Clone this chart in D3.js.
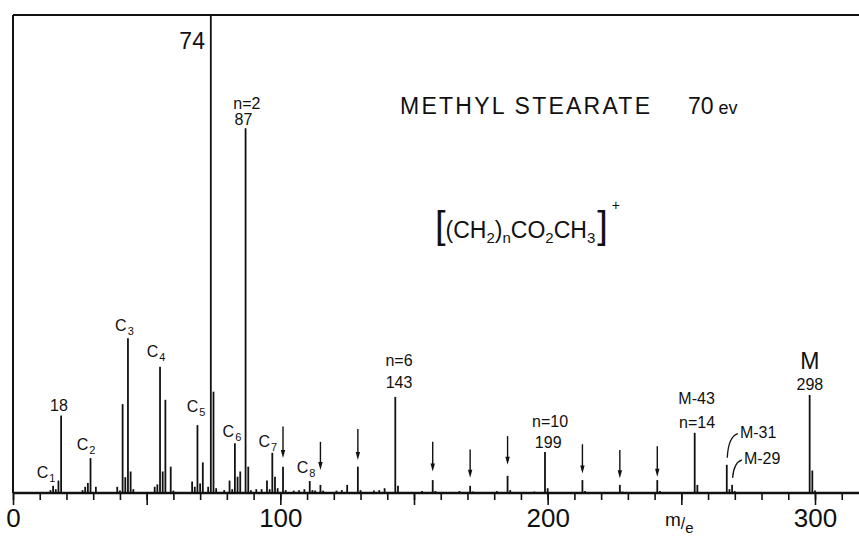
<!DOCTYPE html>
<html>
<head>
<meta charset="utf-8">
<script src="https://cdn.jsdelivr.net/npm/d3@7"></script>
<style>
body { margin: 0; background: #fff; }
svg { display: block; }
text { font-family: "Liberation Sans", Arial, sans-serif; fill: #111; }
</style>
</head>
<body>
<svg id="chart" width="859" height="537"></svg>
<script>
// m/e and relative intensity (%)
const masses = [14,15,16,17,18, 26,27,28,29,31, 39,40,41,42,43,44,45, 53,54,55,56,57,59,60,
  67,68,69,70,71,73,74,75,76,79, 81,82,83,84,85,87,88,89, 91,93,95,96,97,98,99,101,102,
  105,107,109,111,112,113,115,116, 121,123,125,129,130,135,137,139,143,144,
  153,157,158,167,171,172,181,185,186,195,199,200,
  213,214,227,228,241,242,255,256,267,268,269,270,298,299,300];
const intensities = [0.6,1.5,0.8,2.6,16.2, 0.6,1.3,2.1,7.3,1.3, 1.3,0.5,18.6,3.3,32.4,4.5,0.8, 1.3,1.8,26.4,4.5,19.5,5.5,0.5,
  2.4,1.3,14.2,2.0,6.4,1.3,100,21.2,1.0,0.6, 2.6,0.8,10.4,3.4,4.5,76.3,5.5,0.6, 0.8,0.8,2.6,0.8,8.4,3.4,1.0,5.5,0.6,
  0.5,0.6,0.8,2.5,0.6,0.5,1.7,0.5, 0.5,0.6,1.7,5.5,0.6,0.5,0.6,1.0,20.1,1.5,
  0.4,2.7,0.4,0.4,1.5,0.3,0.4,3.6,0.6,0.3,8.6,1.0,
  2.7,0.4,1.7,0.3,2.7,0.4,12.6,1.7,5.9,0.8,1.7,0.4,20.5,4.7,0.5];

// arrowed members of the [(CH2)nCO2CH3]+ series, arrow span in % units
const arrowMasses = [101,115,129,157,171,185,213,227,241];
const arrowTop = [13.9,10.7,13.4,10.7,9.1,11.9,10.2,9.0,9.8];
const arrowBottom = [7.3,4.8,6.9,4.5,3.2,5.9,4.1,3.1,3.4];

const minorTicks = d3.range(0, 311, 10);
const majorTicks = [0,50,100,150,200,250,300];
const tickLabels = [0,100,200,300];

// peak annotations (m/e and % of the text baseline)
const peakLabels = [
  {t:"74", m:71.8, i:92.9, a:"end", big:true},
  {t:"n=2", m:87.5, i:80.4},
  {t:"87", m:86.2, i:77.0},
  {t:"18", m:17.2, i:17.2},
  {t:"C", sub:"1", m:8.9, i:3.1, a:"start"},
  {t:"C", sub:"2", m:23.8, i:9.0, a:"start"},
  {t:"C", sub:"3", m:38.2, i:33.9, a:"start"},
  {t:"C", sub:"4", m:50.0, i:28.4, a:"start"},
  {t:"C", sub:"5", m:65.0, i:17.0, a:"start"},
  {t:"C", sub:"6", m:78.4, i:11.8, a:"start"},
  {t:"C", sub:"7", m:91.8, i:9.6, a:"start"},
  {t:"C", sub:"8", m:106.1, i:4.1, a:"start"},
  {t:"n=6", m:144.4, i:26.6},
  {t:"143", m:144.4, i:21.9},
  {t:"n=10", m:200.9, i:13.9},
  {t:"199", m:200.2, i:9.4},
  {t:"M-43", m:255.7, i:18.6},
  {t:"n=14", m:255.9, i:13.5},
  {t:"M-31", m:271.9, i:11.6, a:"start", from:267},
  {t:"M-29", m:273.4, i:6.1, a:"start", from:269},
  {t:"M", m:298.1, i:25.9, big:true},
  {t:"298", m:298.1, i:21.5}
];

const W = 859, H = 537, INK = "#111";
const x = d3.scaleLinear().domain([0, 300]).range([13, 815]);
const y = d3.scaleLinear().domain([0, 100]).range([493, 15]);
const svg = d3.select("#chart");
const lookup = new Map(masses.map((m, k) => [m, intensities[k]]));

// frame: top and left edges, baseline runs off the right edge
svg.append("line").attr("x1", x(0)).attr("x2", W).attr("y1", y(100)).attr("y2", y(100)).attr("stroke", INK).attr("stroke-width", 2);
svg.append("line").attr("x1", x(0)).attr("x2", x(0)).attr("y1", y(100)).attr("y2", y(0)).attr("stroke", INK).attr("stroke-width", 2);

const minorAxis = svg.append("g").attr("transform", `translate(0,${y(0)})`)
  .call(d3.axisBottom(x).tickValues(minorTicks).tickSize(7).tickFormat(""));
const majorAxis = svg.append("g").attr("transform", `translate(0,${y(0)})`)
  .call(d3.axisBottom(x).tickValues(majorTicks).tickSize(12).tickPadding(4).tickFormat(d => tickLabels.includes(d) ? d : ""));
[minorAxis, majorAxis].forEach(a => {
  a.select(".domain").remove();
  a.selectAll("line").attr("stroke", INK).attr("stroke-width", 1.6);
});
majorAxis.selectAll("text").attr("fill", INK).style("font-size", "26px").style("font-family", "Liberation Sans, Arial, sans-serif");
svg.append("line").attr("x1", x(0)).attr("x2", W).attr("y1", y(0)).attr("y2", y(0)).attr("stroke", INK).attr("stroke-width", 2.5);

// peaks
svg.append("g").selectAll("line").data(masses).join("line")
  .attr("x1", d => x(d)).attr("x2", d => x(d))
  .attr("y1", y(0)).attr("y2", d => y(lookup.get(d)))
  .attr("stroke", INK).attr("stroke-width", 1.8);

// series arrows
const arrows = svg.append("g").selectAll("g").data(arrowMasses).join("g");
arrows.append("line").attr("x1", d => x(d)).attr("x2", d => x(d))
  .attr("y1", (d, k) => y(arrowTop[k])).attr("y2", (d, k) => y(arrowBottom[k]) - 4)
  .attr("stroke", INK).attr("stroke-width", 1.4);
arrows.append("path").attr("fill", INK)
  .attr("d", (d, k) => { const px = x(d), py = y(arrowBottom[k]); return `M${px-2.2},${py-8}L${px+2.2},${py-8}L${px},${py}Z`; });

// labels
const labels = svg.append("g").selectAll("text").data(peakLabels).join("text")
  .attr("x", d => x(d.m)).attr("y", d => y(d.i))
  .attr("text-anchor", d => d.a || "middle")
  .style("font-size", d => d.big ? "23px" : "16px");
labels.append("tspan").text(d => d.t);
labels.filter(d => d.sub).append("tspan").text(d => d.sub).attr("dx", 1).attr("dy", 4).style("font-size", "11px");

// curved leaders for M-31 / M-29
svg.append("g").selectAll("path").data(peakLabels.filter(d => d.from)).join("path")
  .attr("fill", "none").attr("stroke", INK).attr("stroke-width", 1.3)
  .attr("d", d => {
    const x0 = x(d.from) + 0.5, y0 = y(lookup.get(d.from)) - 7;
    const x1 = x(d.m) - 2, y1 = y(d.i) - 4;
    return `M${x0},${y0}Q${x0 + 1},${y1 + 3} ${x1},${y1}`;
  });

// title and ion formula
svg.append("text").attr("x", 400).attr("y", 114).style("font-size", "23px")
  .attr("textLength", 250).attr("lengthAdjust", "spacing").text("METHYL STEARATE");
const ev = svg.append("text").attr("x", 688).attr("y", 114);
ev.append("tspan").text("70").style("font-size", "23px");
ev.append("tspan").text("ev").attr("dx", 5).style("font-size", "18px");

const formula = svg.append("text").attr("x", 435).attr("y", 238).style("font-size", "23px");
const parts = [
  ["[", 38, 0, 0], ["(CH", 23, 0, 0], ["2", 15, 5, 0], [")", 23, -5, 0], ["n", 15, 5, 0], ["CO", 23, -5, 0],
  ["2", 15, 5, 0], ["CH", 23, -5, 0], ["3", 15, 5, 0], ["]", 38, -5, 2], ["+", 14, -28, 4]
];
parts.forEach(([t, s, dy, dx]) => formula.append("tspan").text(t).attr("dy", dy).attr("dx", dx).style("font-size", s + "px"));

// m/e axis caption
const me = svg.append("text").attr("x", 665).attr("y", 526);
me.append("tspan").text("m").style("font-size", "19px");
me.append("tspan").text("/").attr("dy", 3).style("font-size", "16px");
me.append("tspan").text("e").attr("dy", 4).style("font-size", "15px");
</script>
</body>
</html>
